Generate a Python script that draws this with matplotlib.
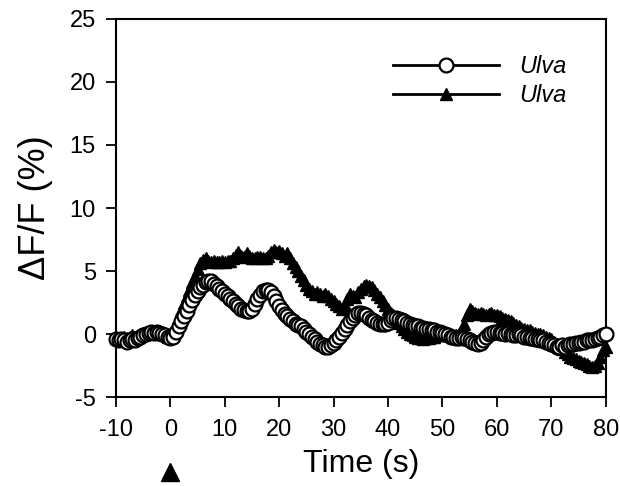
import numpy as np
import matplotlib
matplotlib.use('Agg')
import matplotlib.pyplot as plt
from matplotlib.transforms import blended_transform_factory

plt.rcParams['font.family'] = ['Liberation Sans', 'DejaVu Sans']
plt.rcParams['axes.unicode_minus'] = False

# time base, 0.5 s sampling
time = np.arange(-10, 80.5, 0.5)

# open circles
ulva_circles = [
    -0.4, -0.5, -0.4, -0.5, -0.6, -0.5, -0.4, -0.5, -0.3, -0.2,
    -0.1, 0.0, 0.1, 0.2, 0.1, 0.2, 0.1, 0.0, -0.1, -0.2,
    -0.3, -0.2, 0.2, 0.6, 1.0, 1.4, 1.8, 2.3, 2.7, 3.1,
    3.4, 3.7, 3.9, 4.1, 4.2, 4.2, 4.0, 3.8, 3.6, 3.4,
    3.2, 3.0, 2.8, 2.6, 2.4, 2.2, 2.0, 1.9, 1.8, 1.8,
    2.0, 2.4, 2.8, 3.1, 3.4, 3.5, 3.5, 3.3, 3.0, 2.6,
    2.2, 1.9, 1.6, 1.4, 1.2, 1.0, 0.8, 0.7, 0.6, 0.4,
    0.2, 0.0, -0.2, -0.4, -0.6, -0.8, -0.9, -1.0, -1.0, -0.9,
    -0.7, -0.5, -0.2, 0.1, 0.4, 0.7, 1.0, 1.3, 1.5, 1.7,
    1.7, 1.6, 1.5, 1.3, 1.1, 1.0, 0.9, 0.8, 0.8, 0.8,
    0.9, 1.1, 1.3, 1.3, 1.2, 1.1, 1.0, 0.9, 0.8, 0.7,
    0.6, 0.6, 0.5, 0.5, 0.4, 0.4, 0.3, 0.3, 0.2, 0.2,
    0.1, 0.0, -0.1, -0.2, -0.2, -0.3, -0.3, -0.2, -0.3, -0.4,
    -0.5, -0.6, -0.7, -0.8, -0.7, -0.5, -0.2, 0.0, 0.1, 0.2,
    0.2, 0.1, 0.1, 0.0, 0.1, 0.0, -0.1, -0.1, 0.0, -0.1,
    -0.2, -0.2, -0.3, -0.3, -0.4, -0.4, -0.5, -0.5, -0.6, -0.7,
    -0.8, -0.9, -1.0, -1.0, -0.9, -1.0, -0.9, -0.8, -0.8, -0.7,
    -0.7, -0.6, -0.6, -0.5, -0.5, -0.5, -0.4, -0.3, -0.2, -0.1,
    0.0,
]

# filled triangles
ulva_triangles = [
    -0.3, -0.4, -0.3, -0.2, -0.3, -0.2, -0.1, -0.2, -0.1, 0.0,
    0.1, 0.2, 0.1, 0.2, 0.2, 0.1, 0.1, 0.0, -0.1, -0.2,
    -0.2, 0.3, 0.8, 1.3, 1.9, 2.5, 3.0, 3.5, 4.1, 4.6,
    5.2, 5.6, 5.9, 6.0, 5.8, 5.7, 5.8, 5.7, 5.7, 5.8,
    5.7, 5.8, 5.8, 6.0, 6.3, 6.5, 6.2, 6.1, 6.4, 6.2,
    6.0, 6.0, 6.1, 6.1, 6.0, 6.0, 6.2, 6.5, 6.7, 6.5,
    6.6, 6.4, 6.2, 6.4, 6.0, 5.6, 5.3, 5.0, 4.6, 4.3,
    3.9, 3.6, 3.4, 3.2, 3.3, 3.2, 3.0, 3.2, 3.0, 2.8,
    2.6, 2.4, 2.2, 2.0, 2.3, 2.8, 3.2, 3.0, 2.9, 3.3,
    3.6, 3.8, 3.9, 3.8, 3.7, 3.5, 3.2, 2.9, 2.6, 2.3,
    2.0, 1.7, 1.5, 1.2, 0.9, 0.6, 0.4, 0.2, 0.0, -0.1,
    -0.2, -0.3, -0.3, -0.4, -0.3, -0.3, -0.2, -0.2, -0.1, -0.1,
    -0.1, 0.0, -0.1, -0.1, -0.2, -0.1, 0.0, 0.2, 0.8, 1.5,
    2.0, 1.8, 1.7, 1.6, 1.7, 1.6, 1.5, 1.6, 1.7, 1.5,
    1.5, 1.4, 1.3, 1.2, 1.1, 1.0, 0.9, 0.7, 0.6, 0.5,
    0.4, 0.3, 0.3, 0.2, 0.1, 0.0, 0.0, -0.1, -0.2, -0.3,
    -0.4, -0.6, -0.8, -1.0, -1.2, -1.4, -1.6, -1.8, -1.9, -2.0,
    -2.1, -2.2, -2.3, -2.4, -2.5, -2.6, -2.5, -2.3, -1.8, -1.3,
    -1.0,
]

x_ticks = [-10, 0, 10, 20, 30, 40, 50, 60, 70, 80]
y_ticks = [-5, 0, 5, 10, 15, 20, 25]

fig = plt.figure(figsize=(6.2, 4.86), dpi=100)
ax = fig.add_axes([0.187, 0.183, 0.790, 0.778])

ax.plot(time, ulva_triangles, '-', color='black', lw=1.5,
        marker='^', ms=8, mfc='black', mec='black', label='Ulva',
        zorder=2, clip_on=False)
ax.plot(time, ulva_circles, '-', color='black', lw=1.5,
        marker='o', ms=10, mfc='white', mec='black', mew=1.6, label='Ulva',
        zorder=3, clip_on=False)

ax.set_xlim(-10, 80)
ax.set_ylim(-5, 25)
ax.set_xticks(x_ticks)
ax.set_yticks(y_ticks)
ax.tick_params(direction='out', length=7.5, width=1.3)
ax.tick_params(axis='x', pad=8, labelsize=17)
ax.tick_params(axis='y', pad=7, labelsize=17)
for s in ax.spines.values():
    s.set_linewidth(1.5)

ax.set_xlabel('Time (s)', fontsize=23, labelpad=6)
ax.set_ylabel('ΔF/F (%)', fontsize=26, labelpad=12)

# stimulus marker under t = 0
trans = blended_transform_factory(ax.transData, ax.transAxes)
ax.plot([0], [-0.198], marker='^', ms=13, color='black', transform=trans, clip_on=False)

# legend: circles first, then triangles
h, l = ax.get_legend_handles_labels()
leg = ax.legend([h[1], h[0]], [l[1], l[0]], loc='upper left',
                bbox_to_anchor=(0.565, 0.905), frameon=False, numpoints=1,
                handlelength=4.5, handletextpad=0.85, labelspacing=0.27,
                borderpad=0, borderaxespad=0, prop={'size': 17, 'style': 'italic'})
for line in leg.get_lines():
    line.set_linewidth(2)

fig.savefig('out.png', dpi=100)
